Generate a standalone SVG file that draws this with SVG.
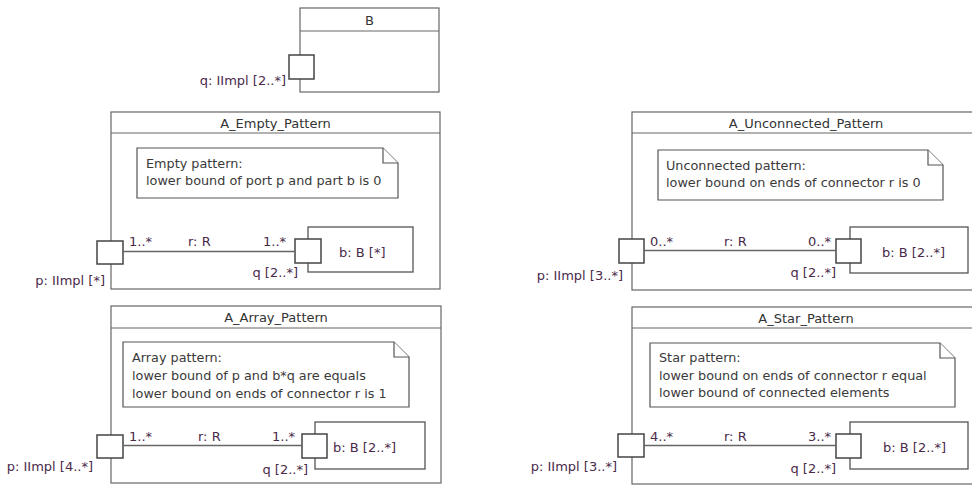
<svg xmlns="http://www.w3.org/2000/svg" width="972" height="487" viewBox="0 0 972 487">
<style>
text{font-family:"DejaVu Sans","Liberation Sans",sans-serif;font-size:13px}
.frame{fill:#fff;stroke:#666;stroke-width:1.2}
.hdr{stroke:#666;stroke-width:1.2}
.title{fill:#333;text-anchor:middle}
.note{fill:#fff;stroke:#555;stroke-width:1.2}
.ntext{fill:#3a3a3a;font-size:12.8px}
.port{fill:#fff;stroke:#444;stroke-width:1.5}
.part{fill:#fff;stroke:#555;stroke-width:1.3}
.lbl{fill:#4a2a4a}
.end{text-anchor:end}
.conn{stroke:#666;stroke-width:1.3;fill:none}
</style>
<rect width="972" height="487" fill="#fff"/>

<g id="B">
<rect class="frame" x="300" y="8" width="139" height="84"/>
<line class="hdr" x1="300" y1="31" x2="439" y2="31"/>
<text class="title" x="369.5" y="25">B</text>
</g>
<g id="B_q">
<rect class="port" x="289" y="55" width="25" height="24"/>
<text class="lbl end" x="286" y="85">q: IImpl [2..*]</text>
</g>

<g id="A_Empty_Pattern">
<rect class="frame" x="111" y="112" width="329" height="177"/>
<line class="hdr" x1="111" y1="133" x2="440" y2="133"/>
<text class="title" x="275.5" y="128">A_Empty_Pattern</text>
</g>
<g id="note_empty">
<path class="note" d="M137 148H383L398 163V198H137Z"/>
<path class="note" d="M383 148V163H398" fill="none"/>
<text class="ntext" x="146" y="168">Empty pattern:</text>
<text class="ntext" x="146" y="185">lower bound of port p and part b is 0</text>
</g>
<g id="empty_b">
<rect class="part" x="308" y="227" width="105" height="45"/>
<text class="lbl" x="339" y="257">b: B [*]</text>
</g>
<g id="empty_p">
<rect class="port" x="97" y="241" width="26" height="23"/>
<text class="lbl end" x="105" y="285">p: IImpl [*]</text>
</g>
<g id="empty_q">
<rect class="port" x="295" y="239" width="26" height="24"/>
<text class="lbl end" x="298" y="277">q [2..*]</text>
</g>

<g id="A_Array_Pattern">
<rect class="frame" x="111" y="306" width="330" height="177"/>
<line class="hdr" x1="111" y1="328" x2="441" y2="328"/>
<text class="title" x="276" y="322">A_Array_Pattern</text>
</g>
<g id="note_array">
<path class="note" d="M123 342H394L409 357V407H123Z"/>
<path class="note" d="M394 342V357H409" fill="none"/>
<text class="ntext" x="132" y="362">Array pattern:</text>
<text class="ntext" x="132" y="380">lower bound of p and b*q are equals</text>
<text class="ntext" x="132" y="398">lower bound on ends of connector r is 1</text>
</g>
<g id="array_b">
<rect class="part" x="315" y="422" width="110" height="47"/>
<text class="lbl" x="333" y="452">b: B [2..*]</text>
</g>
<g id="array_p">
<rect class="port" x="97" y="435" width="26" height="23"/>
<text class="lbl end" x="93" y="471">p: IImpl [4..*]</text>
</g>
<g id="array_q">
<rect class="port" x="302" y="434" width="25" height="24"/>
<text class="lbl end" x="308" y="474">q [2..*]</text>
</g>

<g id="A_Unconnected_Pattern">
<rect class="frame" x="632" y="112" width="348" height="178"/>
<line class="hdr" x1="632" y1="133" x2="980" y2="133"/>
<text class="title" x="806" y="128">A_Unconnected_Pattern</text>
</g>
<g id="note_unconnected">
<path class="note" d="M658 150H928L943 165V200H658Z"/>
<path class="note" d="M928 150V165H943" fill="none"/>
<text class="ntext" x="666" y="170">Unconnected pattern:</text>
<text class="ntext" x="666" y="187">lower bound on ends of connector r is 0</text>
</g>
<g id="unconnected_b">
<rect class="part" x="850" y="227" width="118" height="46"/>
<text class="lbl" x="882" y="257">b: B [2..*]</text>
</g>
<g id="unconnected_p">
<rect class="port" x="619" y="239" width="25" height="24"/>
<text class="lbl end" x="623" y="280">p: IImpl [3..*]</text>
</g>
<g id="unconnected_q">
<rect class="port" x="836" y="239" width="25" height="24"/>
<text class="lbl end" x="836" y="277">q [2..*]</text>
</g>

<g id="A_Star_Pattern">
<rect class="frame" x="632" y="307" width="348" height="177"/>
<line class="hdr" x1="632" y1="328" x2="980" y2="328"/>
<text class="title" x="806" y="323">A_Star_Pattern</text>
</g>
<g id="note_star">
<path class="note" d="M650 343H940L955 358V407H650Z"/>
<path class="note" d="M940 343V358H955" fill="none"/>
<text class="ntext" x="659" y="362">Star pattern:</text>
<text class="ntext" x="659" y="380">lower bound on ends of connector r equal</text>
<text class="ntext" x="659" y="397">lower bound of connected elements</text>
</g>
<g id="star_b">
<rect class="part" x="850" y="422" width="118" height="47"/>
<text class="lbl" x="883" y="452">b: B [2..*]</text>
</g>
<g id="star_p">
<rect class="port" x="618" y="434" width="26" height="23"/>
<text class="lbl end" x="617" y="471">p: IImpl [3..*]</text>
</g>
<g id="star_q">
<rect class="port" x="836" y="434" width="25" height="24"/>
<text class="lbl end" x="836" y="473">q [2..*]</text>
</g>

<g id="connectors">
<line class="conn" x1="123" y1="251.5" x2="295" y2="251.5"/>
<text class="lbl" x="129" y="246">1..*</text>
<text class="lbl" x="188" y="246">r: R</text>
<text class="lbl" x="263" y="246">1..*</text>

<line class="conn" x1="123" y1="445.5" x2="302" y2="445.5"/>
<text class="lbl" x="129" y="441">1..*</text>
<text class="lbl" x="198" y="441">r: R</text>
<text class="lbl" x="272" y="441">1..*</text>

<line class="conn" x1="644" y1="250.5" x2="836" y2="250.5"/>
<text class="lbl" x="650" y="246">0..*</text>
<text class="lbl" x="724" y="246">r: R</text>
<text class="lbl" x="808" y="246">0..*</text>

<line class="conn" x1="644" y1="445.5" x2="836" y2="445.5"/>
<text class="lbl" x="650" y="441">4..*</text>
<text class="lbl" x="724" y="441">r: R</text>
<text class="lbl" x="808" y="441">3..*</text>
</g>
</svg>
